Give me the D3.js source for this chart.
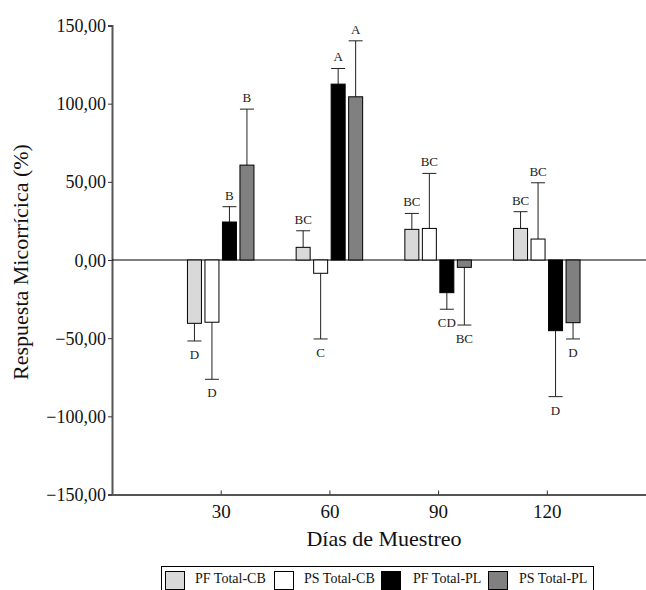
<!DOCTYPE html>
<html><head><meta charset="utf-8">
<script src="https://cdn.jsdelivr.net/npm/d3@7"></script>
<style>body{margin:0;background:#fff}svg{display:block}text{font-family:"Liberation Serif","Times New Roman",serif}</style>
</head><body><svg id="c" width="646" height="590"></svg>
<script>
const days = [30, 60, 90, 120];
const series = ["PF Total-CB", "PS Total-CB", "PF Total-PL", "PS Total-PL"];
const colors = ["#d9d9d9", "#ffffff", "#000000", "#808080"];
// values [series][day]
const values = [
  [-40.5, 8.1, 19.6, 20.2],
  [-39.8, -8.5, 20.2, 13.4],
  [24.3, 112.5, -20.9, -45.2],
  [60.7, 104.4, -4.7, -40.1]
];
const errors = [
  [-51.8, 18.7, 29.8, 30.9],
  [-76.3, -50.5, 55.4, 49.4],
  [34.1, 122.5, -31.5, -87.4],
  [96.5, 140.2, -41.6, -50.5]
];
const letters = [
  ["D", "BC", "BC", "BC"],
  ["D", "C", "BC", "BC"],
  ["B", "A", "CD", "D"],
  ["B", "A", "BC", "D"]
];
const yTicks = [-150, -100, -50, 0, 50, 100, 150];

const svg = d3.select("#c");
const x = d3.scaleLinear().domain([0, 150]).range([112, 655.5]);
const y = d3.scaleLinear().domain([-150, 150]).range([494.5, 25.5]);
const sub = d3.scaleBand().domain(series).range([-33.25, 33.25]).paddingInner(0.2);
const bw = sub.bandwidth();

// axes
const yAxis = svg.append("g").attr("transform", "translate(112,0)")
  .call(d3.axisLeft(y).tickValues(yTicks).tickSize(4).tickPadding(2)
    .tickFormat(d => d3.format(".2f")(d).replace(".", ",")));
yAxis.select(".domain").attr("stroke", "#555").attr("stroke-width", 2);
yAxis.selectAll(".tick line").attr("stroke", "#333");
yAxis.selectAll("text").attr("font-size", 18).attr("fill", "#111").attr("dy", "0.34em")
  .style("font-family", "Liberation Serif");

const xAxis = svg.append("g").attr("transform", "translate(0,494.5)")
  .call(d3.axisBottom(x).tickValues(days).tickSize(-4).tickSizeOuter(0).tickPadding(10));
xAxis.select(".domain").attr("stroke", "#555").attr("stroke-width", 2);
xAxis.selectAll(".tick line").attr("stroke", "#333");
xAxis.selectAll("text").attr("font-size", 19).attr("fill", "#111")
  .style("font-family", "Liberation Serif");

// zero line
svg.append("line").attr("x1", x(0)).attr("x2", 646).attr("y1", y(0)).attr("y2", y(0))
  .attr("stroke", "#000").attr("stroke-width", 1);

// bars
series.forEach((s, si) => {
  const g = svg.append("g");
  days.forEach((d, di) => {
    const v = values[si][di], e = errors[si][di];
    const cx = x(d) + sub(s) + bw / 2;
    // error bar
    g.append("line").attr("x1", cx).attr("x2", cx).attr("y1", y(v)).attr("y2", y(e))
      .attr("stroke", "#222").attr("stroke-width", 1);
    g.append("line").attr("x1", cx - bw / 2).attr("x2", cx + bw / 2).attr("y1", y(e)).attr("y2", y(e))
      .attr("stroke", "#222").attr("stroke-width", 1);
    g.append("rect").attr("x", x(d) + sub(s)).attr("width", bw)
      .attr("y", y(Math.max(0, v))).attr("height", Math.abs(y(v) - y(0)))
      .attr("fill", colors[si]).attr("stroke", "#000").attr("stroke-width", 1);
    g.append("text").attr("x", cx).attr("y", e >= 0 ? y(e) - 7 : y(e) + 18)
      .attr("text-anchor", "middle").attr("font-size", 13).attr("fill", "#222")
      .text(letters[si][di]);
  });
});

// titles
svg.append("text").attr("x", 384).attr("y", 546).attr("text-anchor", "middle")
  .attr("font-size", 22).attr("fill", "#111").text("Días de Muestreo");
svg.append("text").attr("transform", "translate(28,262) rotate(-90)").attr("text-anchor", "middle")
  .attr("font-size", 22).attr("fill", "#111").text("Respuesta Micorrícica (%)");

// legend
const lg = svg.append("g");
lg.append("rect").attr("x", 161.5).attr("y", 566.5).attr("width", 432).attr("height", 30)
  .attr("fill", "#fff").attr("stroke", "#000").attr("stroke-width", 1);
const swX = [165, 274, 381, 488];
const txX = [195, 304, 413, 519];
series.forEach((s, i) => {
  lg.append("rect").attr("x", swX[i] + 0.5).attr("y", 571.5).attr("width", 19).attr("height", 18)
    .attr("fill", colors[i]).attr("stroke", "#000").attr("stroke-width", 1);
  lg.append("text").attr("x", txX[i]).attr("y", 583).attr("font-size", 14).attr("fill", "#111").text(s);
});
</script></body></html>
